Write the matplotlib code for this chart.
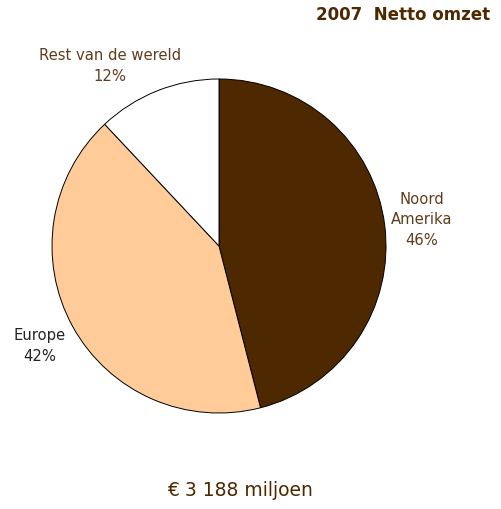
import matplotlib
matplotlib.use("Agg")
import matplotlib.pyplot as plt

labels = ["Noord\nAmerika", "Europe", "Rest van de wereld"]
shares = [46, 42, 12]
colors = ["#4D2800", "#FFCC99", "#FFFFFF"]
label_colors = ["#5E3D1C", "#222222", "#5E3D1C"]
title = "2007  Netto omzet"
total = "€ 3 188 miljoen"

W, H = 502, 510
fig = plt.figure(figsize=(W / 100, H / 100), dpi=100)
fig.patch.set_facecolor("white")

cx, cy, r = 219, 247, 167
ax = fig.add_axes([(cx - r) / W, (H - cy - r) / H, 2 * r / W, 2 * r / H])
ax.pie(shares, colors=colors, startangle=90, counterclock=False,
       wedgeprops=dict(edgecolor="black", linewidth=0.7))
ax.set_xlim(-1, 1)
ax.set_ylim(-1, 1)
ax.set_aspect("equal")
ax.axis("off")

label_pos = [(422, 220), (40, 346), (110, 66)]
for lab, s, (x, y), c in zip(labels, shares, label_pos, label_colors):
    fig.text(x / W, 1 - y / H, f"{lab}\n{s}%", ha="center", va="center",
             fontsize=10.6, color=c, linespacing=1.45, family="DejaVu Sans")

fig.text(490 / W, 1 - 15 / H, title, ha="right", va="center", fontsize=12,
         fontweight="bold", color="#4D2800")
fig.text(240 / W, 1 - 491 / H, total, ha="center", va="center", fontsize=13.5,
         color="#4D2800")

fig.savefig("out.png", dpi=100)
